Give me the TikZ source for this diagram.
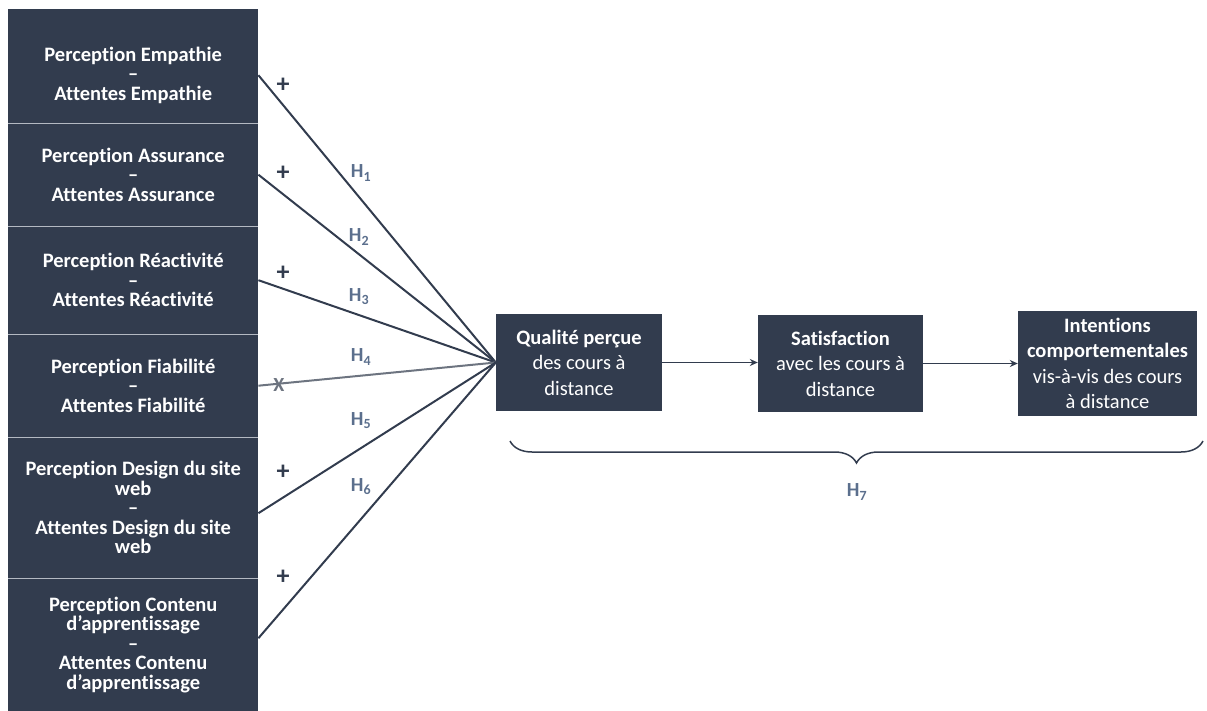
\documentclass[tikz,border=0pt]{standalone}
\usepackage{fontspec}
\setmainfont{Carlito}[Ligatures=NoCommon]
\usetikzlibrary{arrows.meta,decorations.pathreplacing,calc}
\definecolor{navy}{HTML}{323C4E}
\definecolor{hblue}{HTML}{5B6F8D}
\definecolor{nullgray}{HTML}{6D7480}
\definecolor{sepgray}{HTML}{B4B9C2}
\tikzset{
  dimbox/.style={fill=navy,text=white,font=\bfseries\fontsize{20.5}{19.5}\selectfont,
    align=center,minimum width=250pt,inner sep=0pt,anchor=north west},
  varbox/.style={fill=navy,text=white,font=\fontsize{20.5}{25.5}\selectfont,
    align=center,inner sep=0pt},
  link/.style={draw=navy,line width=2pt},
  flow/.style={draw=navy,line width=1.6pt,-{Stealth[length=8pt,width=7pt]}},
  hyp/.style={text=hblue,font=\bfseries\fontsize{20}{20}\selectfont},
  sign/.style={text=navy,font=\bfseries\fontsize{26}{26}\selectfont},
}
\begin{document}
\begin{tikzpicture}[x=1pt,y=-1pt]
  \useasboundingbox (0,0) rectangle (1207,711);
  % dimensions
  \node[dimbox,minimum height=114pt] (emp) at (8,9) {\rule{0pt}{32pt}Perception Empathie\\--\\Attentes Empathie};
  \node[dimbox,minimum height=103pt] (ass) at (8,123) {Perception Assurance\\--\\Attentes Assurance};
  \node[dimbox,minimum height=108pt] (rea) at (8,226) {Perception Réactivité\\--\\Attentes Réactivité};
  \node[dimbox,minimum height=103pt] (fia) at (8,334) {Perception Fiabilité\\--\\Attentes Fiabilité};
  \node[dimbox,minimum height=141pt] (des) at (8,437) {Perception Design du site\\web\\--\\Attentes Design du site\\web};
  \node[dimbox,minimum height=133pt] (con) at (8,578) {Perception Contenu\\d’apprentissage\\--\\Attentes Contenu\\d’apprentissage};
  \foreach \b in {emp,ass,rea,fia,des}
    \draw[sepgray,line width=1pt] (\b.south west) -- (\b.south east);
  % chain
  \node[varbox,minimum width=166pt,minimum height=97pt] (qual) at (579,362.5) {\textbf{Qualité perçue}\\des cours à\\distance};
  \node[varbox,minimum width=165pt,minimum height=97pt] (sat) at (840.5,363.5) {\textbf{Satisfaction}\\avec les cours à\\distance};
  \node[varbox,minimum width=179pt,minimum height=105pt] (int) at (1107.5,363.5) {\textbf{Intentions}\\\textbf{comportementales}\\vis-à-vis des cours\\à distance};
  \draw[flow] (qual.east) -- (sat.west |- qual.east);
  \draw[flow] (sat.east) -- (int.west |- sat.east);
  % hypotheses
  \draw[link] ([yshift=-9pt]emp.east) -- (qual.west);
  \draw[link] (ass.east) -- (qual.west);
  \draw[link] (rea.east) -- (qual.west);
  \draw[draw=nullgray,line width=2pt] (fia.east) -- (qual.west);
  \draw[link] ([yshift=-5.5pt]des.east) -- (qual.west);
  \draw[link] ([yshift=6.5pt]con.east) -- (qual.west);
  \node[sign] (s1) at (283,85) {+};
  \node[sign] (s2) at (283,173) {+};
  \node[sign] (s3) at (283,273) {+};
  \node[text=nullgray,font=\bfseries\fontsize{20}{20}\selectfont] (s4) at (279,385) {X};
  \node[sign] (s5) at (283,472) {+};
  \node[sign] (s6) at (283,577) {+};
  \node[hyp] (h1) at (361,173) {H\textsubscript{1}};
  \node[hyp] (h2) at (359,237) {H\textsubscript{2}};
  \node[hyp] (h3) at (359,297) {H\textsubscript{3}};
  \node[hyp] (h4) at (361,357) {H\textsubscript{4}};
  \node[hyp] (h5) at (361,421) {H\textsubscript{5}};
  \node[hyp] (h6) at (361,487) {H\textsubscript{6}};
  % mediation
  \coordinate (bl) at (510,441);
  \coordinate (br) at (1203,441);
  \draw[navy,line width=1.5pt,decorate,decoration={brace,mirror,amplitude=22pt}] (bl) -- (br);
  \node[hyp] (h7) at (857,492) {H\textsubscript{7}};
\end{tikzpicture}
\end{document}
